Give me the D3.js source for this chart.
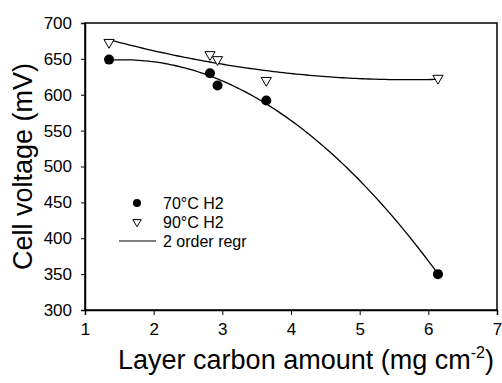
<!DOCTYPE html>
<html><head><meta charset="utf-8">
<script src="https://cdn.jsdelivr.net/npm/d3@7"></script>
<style>body{margin:0;background:#fff}svg{display:block}text{font-family:"Liberation Sans",Arial,sans-serif;fill:#000}</style>
</head><body><svg id="c" width="502" height="383"></svg>
<script>
const carbon = [1.35, 2.82, 2.93, 3.64, 6.14];
const h2_70 = [649, 630, 613, 592, 350];
const h2_90 = [673, 656, 649, 620, 623];
const xTicks = [1,2,3,4,5,6,7];
const yTicks = [300,350,400,450,500,550,600,650,700];
const legendLabels = ["70°C H2","90°C H2","2 order regr"];

const W=502,H=383,m={l:85,t:23,r:5,b:73};
const svg=d3.select("#c");
const x=d3.scaleLinear().domain([1,7]).range([m.l,W-m.r]);
const y=d3.scaleLinear().domain([300,700]).range([H-m.b,m.t]);

// frame
svg.append("rect").attr("x",m.l).attr("y",m.t).attr("width",W-m.r-m.l).attr("height",H-m.b-m.t)
  .attr("fill","none").attr("stroke","#000").attr("stroke-width",1.5);

const gx=svg.append("g").attr("transform",`translate(0,${H-m.b})`)
  .call(d3.axisBottom(x).tickValues(xTicks).tickSize(5).tickPadding(8).tickFormat(d3.format("d")));
const gy=svg.append("g").attr("transform",`translate(${m.l},0)`)
  .call(d3.axisLeft(y).tickValues(yTicks).tickSize(4).tickPadding(9).tickFormat(d3.format("d")));
[gx,gy].forEach(g=>{g.select(".domain").attr("stroke-width",1.5);g.selectAll("line").attr("stroke-width",1);
  g.selectAll("text").style("font-size","17px").attr("font-family",null);});

// quadratic least squares
function quadFit(xs,ys){
  let n=xs.length,S=[0,0,0,0,0],T=[0,0,0];
  for(let i=0;i<n;i++){let p=1;for(let k=0;k<5;k++){S[k]+=p;if(k<3)T[k]+=p*ys[i];p*=xs[i];}}
  const A=[[S[0],S[1],S[2],T[0]],[S[1],S[2],S[3],T[1]],[S[2],S[3],S[4],T[2]]];
  for(let i=0;i<3;i++){for(let j=i+1;j<3;j++){const f=A[j][i]/A[i][i];for(let k=i;k<4;k++)A[j][k]-=f*A[i][k];}}
  const c=[0,0,0];
  for(let i=2;i>=0;i--){let s=A[i][3];for(let k=i+1;k<3;k++)s-=A[i][k]*c[k];c[i]=s/A[i][i];}
  return v=>c[0]+c[1]*v+c[2]*v*v;
}
const xs=d3.range(d3.min(carbon),d3.max(carbon)+1e-9,(d3.max(carbon)-d3.min(carbon))/100);
const line=d3.line().x(d=>x(d[0])).y(d=>y(d[1]));
[h2_70,h2_90].forEach(ser=>{
  const f=quadFit(carbon,ser);
  svg.append("path").attr("d",line(xs.map(v=>[v,f(v)]))).attr("fill","none").attr("stroke","#000").attr("stroke-width",1.3);
});

const tri=d3.symbol().type(d3.symbolTriangle).size(45);
svg.selectAll(".t").data(carbon).enter().append("path")
  .attr("d",tri).attr("transform",(d,i)=>`translate(${x(d)},${y(h2_90[i])}) rotate(180)`)
  .attr("fill","#fff").attr("stroke","#000").attr("stroke-width",1);
svg.selectAll(".c").data(carbon).enter().append("circle")
  .attr("cx",d=>x(d)).attr("cy",(d,i)=>y(h2_70[i])).attr("r",5).attr("fill","#000");

// legend
const lg=svg.append("g");
lg.append("circle").attr("cx",137).attr("cy",203).attr("r",4).attr("fill","#000");
lg.append("path").attr("d",d3.symbol().type(d3.symbolTriangle).size(30)).attr("transform","translate(137,222) rotate(180)")
  .attr("fill","#fff").attr("stroke","#000").attr("stroke-width",1);
lg.append("line").attr("x1",119).attr("x2",156).attr("y1",241).attr("y2",241).attr("stroke","#000").attr("stroke-width",1.2);
legendLabels.forEach((t,i)=>lg.append("text").attr("x",163).attr("y",209+i*19).style("font-size","16px").text(t));

// axis titles
const xt=svg.append("text").attr("x",306).attr("y",369).attr("text-anchor","middle").style("font-size","27px");
xt.append("tspan").text("Layer carbon amount (mg cm");
xt.append("tspan").attr("dy",-11).style("font-size","16px").text("-2");
xt.append("tspan").attr("dy",11).text(")");
svg.append("text").attr("transform",`translate(32,${(m.t+H-m.b)/2}) rotate(-90)`).attr("text-anchor","middle")
  .style("font-size","27px").text("Cell voltage (mV)");
</script></body></html>
